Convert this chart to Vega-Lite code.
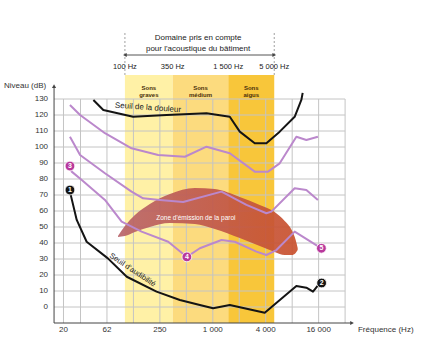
{
  "$schema": "https://vega.github.io/schema/vega-lite/v6.json",
  "width": 447,
  "height": 359,
  "autosize": {"type": "none"},
  "padding": 0,
  "background": "white",
  "config": {"view": {"stroke": null}, "font": "Liberation Sans"},
  "resolve": {"scale": {"color": "independent", "fill": "independent", "shape": "independent"}},
  "datasets": {
    "bands": [
      {"f0": 100, "f1": 350, "zone": "graves", "label": "Sons\ngraves", "fc": 187},
      {"f0": 350, "f1": 1500, "zone": "medium", "label": "Sons\nmédium", "fc": 725},
      {"f0": 1500, "f1": 5000, "zone": "aigus", "label": "Sons\naigus", "fc": 2739}
    ],
    "gridv": [{"f": 20}, {"f": 31.25}, {"f": 62.5}, {"f": 125}, {"f": 250}, {"f": 500}, {"f": 1000}, {"f": 2000}, {"f": 4000}, {"f": 8000}, {"f": 16000}, {"f": 32000}],
    "gridh": [{"db": 0}, {"db": 10}, {"db": 20}, {"db": 30}, {"db": 40}, {"db": 50}, {"db": 60}, {"db": 70}, {"db": 80}, {"db": 90}, {"db": 100}, {"db": 110}, {"db": 120}, {"db": 130}],
    "xticks": [
      {"f": 20, "t": "20"}, {"f": 62.5, "t": "62"}, {"f": 250, "t": "250"}, {"f": 1000, "t": "1 000"}, {"f": 4000, "t": "4 000"}, {"f": 16000, "t": "16 000"}
    ],
    "titles": [
      {"f": 4.21, "db": 138.1, "t": "Niveau (dB)"},
      {"f": 44850, "db": -14.4, "t": "Fréquence (Hz)"}
    ],
    "blob": [
      {"f": 83.4, "hi": 44.4, "lo": 43.8},
      {"f": 100, "hi": 50.6, "lo": 44.4},
      {"f": 130, "hi": 57.5, "lo": 46.9},
      {"f": 192, "hi": 64.4, "lo": 50},
      {"f": 325, "hi": 70.6, "lo": 52.5},
      {"f": 625, "hi": 74.4, "lo": 51.9},
      {"f": 1054, "hi": 73.8, "lo": 48.8},
      {"f": 2026, "hi": 68.8, "lo": 43.1},
      {"f": 3420, "hi": 63.8, "lo": 38.1},
      {"f": 5060, "hi": 59.4, "lo": 34.4},
      {"f": 6575, "hi": 53.8, "lo": 32.5},
      {"f": 7900, "hi": 48.1, "lo": 32.5},
      {"f": 8770, "hi": 41.9, "lo": 33.8},
      {"f": 9240, "hi": 36.9, "lo": 35.6}
    ],
    "curves": [
      {"c": "audibilite", "f": 23.7, "db": 72.1}, {"c": "audibilite", "f": 28.3, "db": 54.4}, {"c": "audibilite", "f": 36.7, "db": 40.8}, {"c": "audibilite", "f": 64, "db": 30.4}, {"c": "audibilite", "f": 105, "db": 18.9}, {"c": "audibilite", "f": 229, "db": 9.6}, {"c": "audibilite", "f": 422, "db": 4.4}, {"c": "audibilite", "f": 712, "db": 1.25}, {"c": "audibilite", "f": 1008, "db": -0.8}, {"c": "audibilite", "f": 1560, "db": 1.25}, {"c": "audibilite", "f": 3900, "db": -3.6}, {"c": "audibilite", "f": 8930, "db": 13.1}, {"c": "audibilite", "f": 11600, "db": 12.1}, {"c": "audibilite", "f": 13800, "db": 9.6}, {"c": "audibilite", "f": 16400, "db": 14.8},
      {"c": "douleur", "f": 43.8, "db": 129.4}, {"c": "douleur", "f": 56.8, "db": 123.1}, {"c": "douleur", "f": 124, "db": 118.9}, {"c": "douleur", "f": 298, "db": 120}, {"c": "douleur", "f": 848, "db": 121.1}, {"c": "douleur", "f": 1560, "db": 118.9}, {"c": "douleur", "f": 2026, "db": 109.6}, {"c": "douleur", "f": 3000, "db": 102.3}, {"c": "douleur", "f": 4070, "db": 102.3}, {"c": "douleur", "f": 5770, "db": 109.6}, {"c": "douleur", "f": 8540, "db": 118.9}, {"c": "douleur", "f": 10170, "db": 129.4}, {"c": "douleur", "f": 10530, "db": 133.8},
      {"c": "A", "f": 23.7, "db": 126.3}, {"c": "A", "f": 30.9, "db": 120}, {"c": "A", "f": 59.3, "db": 108.6}, {"c": "A", "f": 119, "db": 99.2}, {"c": "A", "f": 239, "db": 95}, {"c": "A", "f": 481, "db": 93.9}, {"c": "A", "f": 848, "db": 100.2}, {"c": "A", "f": 1560, "db": 96.1}, {"c": "A", "f": 3000, "db": 84.6}, {"c": "A", "f": 4250, "db": 84.6}, {"c": "A", "f": 5770, "db": 89.8}, {"c": "A", "f": 8930, "db": 106.4}, {"c": "A", "f": 11600, "db": 104.4}, {"c": "A", "f": 15700, "db": 106.4},
      {"c": "B", "f": 23.7, "db": 106.4}, {"c": "B", "f": 30.9, "db": 95}, {"c": "B", "f": 59.3, "db": 83.6}, {"c": "B", "f": 119, "db": 72.1}, {"c": "B", "f": 161, "db": 67.9}, {"c": "B", "f": 250, "db": 66.9}, {"c": "B", "f": 460, "db": 65.6}, {"c": "B", "f": 1256, "db": 72.1}, {"c": "B", "f": 2414, "db": 63.8}, {"c": "B", "f": 4070, "db": 58.6}, {"c": "B", "f": 4640, "db": 59.6}, {"c": "B", "f": 8540, "db": 74.2}, {"c": "B", "f": 11600, "db": 73.1}, {"c": "B", "f": 15700, "db": 66.9},
      {"c": "C", "f": 23.7, "db": 88.1}, {"c": "C", "f": 24.8, "db": 84.6}, {"c": "C", "f": 32.3, "db": 79.4}, {"c": "C", "f": 59.3, "db": 66.9}, {"c": "C", "f": 91.8, "db": 53.3}, {"c": "C", "f": 155, "db": 47.1}, {"c": "C", "f": 311, "db": 40.8}, {"c": "C", "f": 507, "db": 31.3}, {"c": "C", "f": 712, "db": 36.7}, {"c": "C", "f": 1256, "db": 41.9}, {"c": "C", "f": 1778, "db": 40.8}, {"c": "C", "f": 3136, "db": 34.6}, {"c": "C", "f": 4070, "db": 32.5}, {"c": "C", "f": 5290, "db": 35.6}, {"c": "C", "f": 8540, "db": 47.1}, {"c": "C", "f": 17200, "db": 36.7}
    ],
    "markers": [
      {"n": "1", "kind": "noir", "f": 23.7, "db": 73.1},
      {"n": "2", "kind": "noir", "f": 17300, "db": 15},
      {"n": "3", "kind": "violet", "f": 23.7, "db": 88.1},
      {"n": "4", "kind": "violet", "f": 507, "db": 31.3},
      {"n": "5", "kind": "violet", "f": 17200, "db": 36.7}
    ],
    "arrows": [
      {"f": 15.625, "db": 138, "dir": "up"},
      {"f": 38400, "db": -10, "dir": "right"},
      {"f": 100, "db": 157.5, "dir": "left"},
      {"f": 5000, "db": 157.5, "dir": "right"}
    ],
    "hz": [
      {"f": 100, "t": "100 Hz"}, {"f": 350, "t": "350 Hz"}, {"f": 1500, "t": "1 500 Hz"}, {"f": 5000, "t": "5 000 Hz"}
    ],
    "header": [
      {"f": 680, "db": 168.1, "t": "Domaine pris en compte"},
      {"f": 680, "db": 161.3, "t": "pour l'acoustique du bâtiment"}
    ]
  },
  "layer": [
    {
      "data": {"name": "bands"},
      "mark": {"type": "rect"},
      "encoding": {
        "x": {"field": "f0", "type": "quantitative", "scale": {"type": "log", "domain": [3.792, 461900], "nice": false}, "axis": null},
        "x2": {"field": "f1"},
        "y": {"datum": -10, "type": "quantitative", "scale": {"domain": [-32.5, 191.875], "nice": false, "zero": false}, "axis": null},
        "y2": {"datum": 145},
        "color": {"field": "zone", "type": "nominal", "legend": null,
          "scale": {"domain": ["graves", "medium", "aigus"], "range": ["#fff1a6", "#fcdb7e", "#f8c63a"]}}
      }
    },
    {
      "data": {"name": "gridv"},
      "mark": {"type": "rule", "color": "#c4c4c4", "strokeWidth": 1},
      "encoding": {
        "x": {"field": "f", "type": "quantitative", "axis": null},
        "y": {"datum": -10, "type": "quantitative", "axis": null},
        "y2": {"datum": 130}
      }
    },
    {
      "data": {"name": "gridh"},
      "mark": {"type": "rule", "color": "#c4c4c4", "strokeWidth": 1},
      "encoding": {
        "y": {"field": "db", "type": "quantitative", "axis": null},
        "x": {"datum": 15.625, "type": "quantitative", "axis": null},
        "x2": {"datum": 32000}
      }
    },
    {
      "data": {"name": "gridh"},
      "mark": {"type": "text", "fontSize": 8, "color": "#333", "align": "right", "baseline": "middle"},
      "encoding": {
        "y": {"field": "db", "type": "quantitative", "axis": null},
        "x": {"datum": 13.35, "type": "quantitative", "axis": null},
        "text": {"field": "db", "type": "quantitative"}
      }
    },
    {
      "data": {"name": "xticks"},
      "mark": {"type": "text", "fontSize": 8, "color": "#333", "align": "center", "baseline": "middle"},
      "encoding": {
        "x": {"field": "f", "type": "quantitative", "axis": null},
        "y": {"datum": -14.4, "type": "quantitative", "axis": null},
        "text": {"field": "t"}
      }
    },
    {
      "data": {"name": "titles"},
      "mark": {"type": "text", "fontSize": 8, "color": "#333", "align": "left", "baseline": "middle"},
      "encoding": {
        "x": {"field": "f", "type": "quantitative", "axis": null},
        "y": {"field": "db", "type": "quantitative", "axis": null},
        "text": {"field": "t"}
      }
    },
    {
      "data": {"name": "blob"},
      "mark": {"type": "area", "interpolate": "monotone", "opacity": 0.92,
        "fill": {"gradient": "linear", "x1": 0, "y1": 0, "x2": 1, "y2": 0,
          "stops": [{"offset": 0, "color": "#b8646a"}, {"offset": 0.5, "color": "#c0584c"}, {"offset": 1, "color": "#c9502c"}]}},
      "encoding": {
        "x": {"field": "f", "type": "quantitative", "axis": null},
        "y": {"field": "hi", "type": "quantitative", "axis": null},
        "y2": {"field": "lo"}
      }
    },
    {
      "data": {"name": "curves"},
      "mark": {"type": "line", "strokeWidth": 2, "strokeJoin": "round"},
      "encoding": {
        "x": {"field": "f", "type": "quantitative", "axis": null},
        "y": {"field": "db", "type": "quantitative", "axis": null},
        "color": {"field": "c", "type": "nominal", "legend": null,
          "scale": {"domain": ["audibilite", "douleur", "A", "B", "C"], "range": ["#141414", "#141414", "#bb88cc", "#bb88cc", "#bb88cc"]}}
      }
    },
    {
      "data": {"values": [{}]},
      "mark": {"type": "rule", "color": "#444", "strokeWidth": 1},
      "encoding": {
        "x": {"datum": 15.625, "type": "quantitative", "axis": null},
        "y": {"datum": -10, "type": "quantitative", "axis": null},
        "y2": {"datum": 137}
      }
    },
    {
      "data": {"values": [{}]},
      "mark": {"type": "rule", "color": "#444", "strokeWidth": 1},
      "encoding": {
        "x": {"datum": 15.625, "type": "quantitative", "axis": null},
        "x2": {"datum": 38400},
        "y": {"datum": -10, "type": "quantitative", "axis": null}
      }
    },
    {
      "data": {"values": [{}]},
      "mark": {"type": "rule", "color": "#555", "strokeWidth": 1},
      "encoding": {
        "x": {"datum": 100, "type": "quantitative", "axis": null},
        "x2": {"datum": 5000},
        "y": {"datum": 157.5, "type": "quantitative", "axis": null}
      }
    },
    {
      "data": {"name": "hz"},
      "transform": [{"filter": "datum.f == 100 || datum.f == 5000"}],
      "mark": {"type": "rule", "color": "#888", "strokeWidth": 0.8, "strokeDash": [2, 2]},
      "encoding": {
        "x": {"field": "f", "type": "quantitative", "axis": null},
        "y": {"datum": 145, "type": "quantitative", "axis": null},
        "y2": {"datum": 172}
      }
    },
    {
      "data": {"name": "arrows"},
      "mark": {"type": "point", "filled": true, "size": 18, "color": "#444", "opacity": 1},
      "encoding": {
        "x": {"field": "f", "type": "quantitative", "axis": null},
        "y": {"field": "db", "type": "quantitative", "axis": null},
        "shape": {"field": "dir", "type": "nominal", "legend": null,
          "scale": {"domain": ["up", "right", "left"], "range": ["triangle-up", "triangle-right", "triangle-left"]}}
      }
    },
    {
      "data": {"name": "hz"},
      "mark": {"type": "text", "fontSize": 7.5, "color": "#222", "baseline": "middle"},
      "encoding": {
        "x": {"field": "f", "type": "quantitative", "axis": null},
        "y": {"datum": 150, "type": "quantitative", "axis": null},
        "text": {"field": "t"}
      }
    },
    {
      "data": {"name": "header"},
      "mark": {"type": "text", "fontSize": 8, "color": "#222", "baseline": "middle"},
      "encoding": {
        "x": {"field": "f", "type": "quantitative", "axis": null},
        "y": {"field": "db", "type": "quantitative", "axis": null},
        "text": {"field": "t"}
      }
    },
    {
      "data": {"name": "bands"},
      "mark": {"type": "text", "fontSize": 6, "fontWeight": "bold", "color": "#4a300c", "baseline": "middle", "lineBreak": "\n", "lineHeight": 7},
      "encoding": {
        "x": {"field": "fc", "type": "quantitative", "axis": null},
        "y": {"datum": 137, "type": "quantitative", "axis": null},
        "text": {"field": "label"}
      }
    },
    {
      "data": {"values": [{"f": 183, "db": 124.4, "t": "Seuil de la douleur"}]},
      "mark": {"type": "text", "fontSize": 8, "color": "#222", "baseline": "middle", "angle": 4},
      "encoding": {
        "x": {"field": "f", "type": "quantitative", "axis": null},
        "y": {"field": "db", "type": "quantitative", "axis": null},
        "text": {"field": "t"}
      }
    },
    {
      "data": {"values": [{"f": 122, "db": 23, "t": "Seuil d'audibilité"}]},
      "mark": {"type": "text", "fontSize": 7.5, "color": "#222", "baseline": "middle", "angle": 34},
      "encoding": {
        "x": {"field": "f", "type": "quantitative", "axis": null},
        "y": {"field": "db", "type": "quantitative", "axis": null},
        "text": {"field": "t"}
      }
    },
    {
      "data": {"values": [{"f": 641, "db": 55.6, "t": "Zone d'émission de la paroi"}]},
      "mark": {"type": "text", "fontSize": 6.5, "color": "#ffffff", "baseline": "middle"},
      "encoding": {
        "x": {"field": "f", "type": "quantitative", "axis": null},
        "y": {"field": "db", "type": "quantitative", "axis": null},
        "text": {"field": "t"}
      }
    },
    {
      "data": {"name": "markers"},
      "mark": {"type": "point", "filled": true, "size": 95, "opacity": 1, "stroke": "white", "strokeWidth": 0.8},
      "encoding": {
        "x": {"field": "f", "type": "quantitative", "axis": null},
        "y": {"field": "db", "type": "quantitative", "axis": null},
        "fill": {"field": "kind", "type": "nominal", "legend": null,
          "scale": {"domain": ["noir", "violet"], "range": ["#141414", "#b8389c"]}}
      }
    },
    {
      "data": {"name": "markers"},
      "mark": {"type": "text", "fontSize": 7, "fontWeight": "bold", "color": "white", "baseline": "middle", "align": "center"},
      "encoding": {
        "x": {"field": "f", "type": "quantitative", "axis": null},
        "y": {"field": "db", "type": "quantitative", "axis": null},
        "text": {"field": "n"}
      }
    }
  ]
}
